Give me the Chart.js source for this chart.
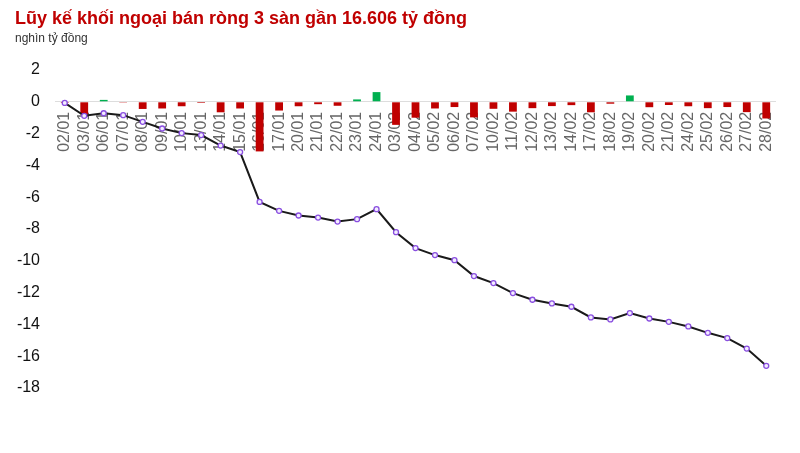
<!DOCTYPE html>
<html>
<head>
<meta charset="utf-8">
<script src="https://cdn.jsdelivr.net/npm/chart.js@4"></script>
<style>
  html, body { margin: 0; padding: 0; background: #fff; }
  #wrap { width: 800px; height: 453px; }
</style>
</head>
<body>
<div id="wrap"><canvas id="chart" width="800" height="453"></canvas></div>
<script>
const categories = ['02/01', '03/01', '06/01', '07/01', '08/01', '09/01', '10/01', '13/01', '14/01', '15/01',
    '16/01', '17/01', '20/01', '21/01', '22/01', '23/01', '24/01', '03/02', '04/02', '05/02',
    '06/02', '07/02', '10/02', '11/02', '12/02', '13/02', '14/02', '17/02', '18/02', '19/02',
    '20/02', '21/02', '24/02', '25/02', '26/02', '27/02', '28/02'];

// giá trị ròng từng phiên (nghìn tỷ đồng)
const dailyNet = [-0.07, -0.8, 0.12, -0.05, -0.45, -0.42, -0.28, -0.07, -0.66, -0.42,
    -3.12, -0.55, -0.28, -0.15, -0.25, 0.15, 0.61, -1.45, -1.0, -0.42,
    -0.33, -0.98, -0.44, -0.62, -0.4, -0.27, -0.21, -0.66, -0.12, 0.4,
    -0.34, -0.2, -0.28, -0.4, -0.33, -0.65, -1.05];

// lũy kế
const cumulative = [-0.07, -0.88, -0.72, -0.84, -1.26, -1.68, -1.97, -2.09, -2.75, -3.16,
    -6.3, -6.86, -7.15, -7.28, -7.53, -7.38, -6.75, -8.2, -9.2, -9.64,
    -9.96, -10.96, -11.4, -12.03, -12.45, -12.68, -12.89, -13.56, -13.69, -13.29,
    -13.63, -13.84, -14.13, -14.53, -14.86, -15.52, -16.606];

const yMin = -18;
const yMax = 2;

const ctx = document.getElementById('chart').getContext('2d');
new Chart(ctx, {
    data: {
        labels: categories,
        datasets: [
            {
                type: 'line',
                data: cumulative,
                borderColor: '#1a1a1a',
                borderWidth: 2,
                pointRadius: 2.5,
                pointBorderWidth: 1.3,
                pointBorderColor: '#8a4fe0',
                pointBackgroundColor: '#f3edff',
                tension: 0,
                order: 0
            },
            {
                type: 'bar',
                data: dailyNet,
                backgroundColor: dailyNet.map(v => v >= 0 ? '#00b050' : '#c00000'),
                categoryPercentage: 1,
                barPercentage: 0.4,
                order: 1
            }
        ]
    },
    options: {
        responsive: false,
        animation: false,
        layout: { padding: { left: 15, right: 24, top: 0, bottom: 65 } },
        plugins: {
            legend: { display: false },
            tooltip: { enabled: false },
            title: {
                display: true,
                text: 'Lũy kế khối ngoại bán ròng 3 sàn gần 16.606 tỷ đồng',
                align: 'start',
                color: '#c00000',
                font: { family: 'Liberation Sans, Arial, sans-serif', size: 18, weight: 'bold' },
                padding: { top: 8, bottom: 2 }
            },
            subtitle: {
                display: true,
                text: 'nghìn tỷ đồng',
                align: 'start',
                color: '#333',
                font: { family: 'Liberation Sans, Arial, sans-serif', size: 12 },
                padding: { top: 0, bottom: 24 }
            }
        },
        scales: {
            x: {
                position: { y: 0 },
                z: 1,
                grid: { display: false },
                border: { display: false },
                ticks: {
                    autoSkip: false,
                    minRotation: 90,
                    maxRotation: 90,
                    padding: 2,
                    color: '#666',
                    font: { family: 'Liberation Sans, Arial, sans-serif', size: 16 }
                }
            },
            y: {
                min: yMin,
                max: yMax,
                afterFit: (scale) => { scale.width = 40; },
                border: { display: false },
                grid: {
                    drawTicks: false,
                    color: (c) => c.tick && c.tick.value === 0 ? '#dddddd' : 'rgba(0,0,0,0)'
                },
                ticks: {
                    stepSize: 2,
                    padding: 15,
                    color: '#111',
                    font: { family: 'Liberation Sans, Arial, sans-serif', size: 16 }
                }
            }
        }
    }
});
</script>
</body>
</html>
